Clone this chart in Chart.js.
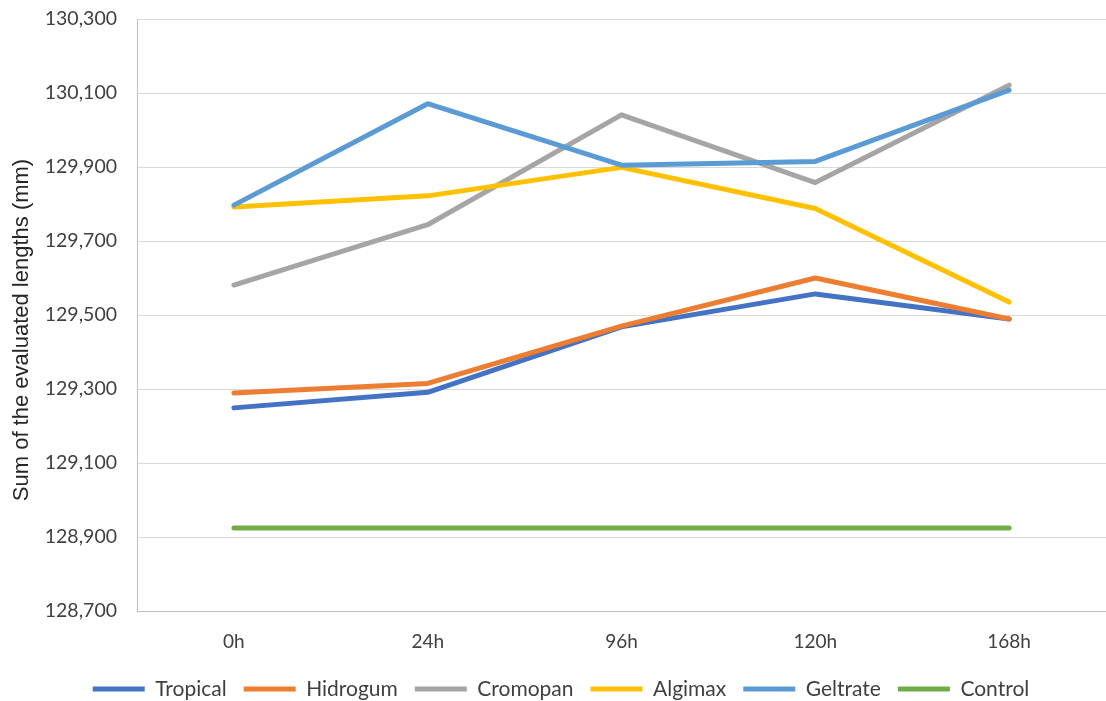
<!DOCTYPE html>
<html>
<head>
<meta charset="utf-8">
<script src="https://cdn.jsdelivr.net/npm/chart.js@4/dist/chart.umd.min.js"></script>
<style>
  html, body { margin: 0; padding: 0; background: #ffffff; }
  #wrap { width: 1106px; height: 701px; position: relative; }
</style>
</head>
<body>
<div id="wrap"><canvas id="chart"></canvas></div>
<script>
// Sampling times
const times = ['0h', '24h', '96h', '120h', '168h'];

// Sum of the evaluated lengths (mm) per material
const tropical = [129249, 129291, 129468, 129557, 129489];
const hidrogum = [129289, 129315, 129470, 129600, 129489];
const cromopan = [129581, 129744, 130041, 129858, 130121];
const algimax  = [129792, 129822, 129899, 129788, 129535];
const geltrate = [129797, 130071, 129905, 129915, 130108];
const control  = [128924, 128924, 128924, 128924, 128924];

// Y axis range and tick step
const yMin = 128700;
const yMax = 130300;
const yStep = 200;

const seriesNames  = ['Tropical', 'Hidrogum', 'Cromopan', 'Algimax', 'Geltrate', 'Control'];
const seriesValues = [tropical, hidrogum, cromopan, algimax, geltrate, control];
const seriesColors = ['#4472C4', '#ED7D31', '#A5A5A5', '#FFC000', '#5B9BD5', '#70AD47'];

const yTitle = 'Sum of the evaluated lengths (mm)';

const datasets = seriesNames.map((name, i) => ({
  label: name,
  data: seriesValues[i],
  borderColor: seriesColors[i],
  backgroundColor: seriesColors[i],
  borderWidth: 5,
  borderCapStyle: 'round',
  borderJoinStyle: 'round',
  pointRadius: 0,
  pointHoverRadius: 0,
  tension: 0,
  fill: false,
  // later series are painted over earlier ones
  order: seriesNames.length - i
}));

// Rotated y-axis title, centred on the whole drawing height
const yTitlePlugin = {
  id: 'yTitle',
  afterDraw(chart) {
    const ctx = chart.ctx;
    ctx.save();
    ctx.translate(22, 330);
    ctx.rotate(-Math.PI / 2);
    ctx.font = '22px "Liberation Sans", Arial, sans-serif';
    ctx.fillStyle = '#262626';
    ctx.textAlign = 'center';
    ctx.textBaseline = 'middle';
    ctx.fillText(yTitle, 0, 0);
    ctx.restore();
  }
};

new Chart(document.getElementById('chart'), {
  type: 'line',
  data: { labels: times, datasets },
  plugins: [yTitlePlugin],
  options: {
    responsive: true,
    maintainAspectRatio: false,
    animation: false,
    layout: { padding: { top: 19, left: 16, right: 0, bottom: -8.5 } },
    plugins: {
      tooltip: { enabled: false },
      legend: {
        position: 'bottom',
        align: 'center',
        labels: {
          usePointStyle: true,
          pointStyle: 'line',
          pointStyleWidth: 52,
          boxHeight: 5,
          padding: 17,
          color: '#404040',
          font: { family: 'Lato, "Open Sans", sans-serif', size: 21 },
          sort: (a, b) => a.datasetIndex - b.datasetIndex
        }
      }
    },
    scales: {
      x: {
        offset: true,
        afterFit(scale) { scale.height = 50.5; },
        grid: { display: false, drawTicks: false },
        border: { display: true, color: '#bfbfbf', width: 1 },
        ticks: {
          color: '#404040',
          padding: 19,
          font: { family: 'Lato, "Open Sans", sans-serif', size: 19 }
        }
      },
      y: {
        min: yMin,
        max: yMax,
        afterFit(scale) {
          scale.width = 121;
          scale.paddingTop = 0;
          scale.paddingBottom = 0;
        },
        grid: { color: '#d9d9d9', lineWidth: 1, drawTicks: false },
        border: { display: true, color: '#bfbfbf', width: 1 },
        ticks: {
          stepSize: yStep,
          color: '#404040',
          padding: 20,
          font: { family: 'Lato, "Open Sans", sans-serif', size: 19.5 },
          callback: (v) => Number(v).toLocaleString('en-US')
        }
      }
    }
  }
});
</script>
</body>
</html>
